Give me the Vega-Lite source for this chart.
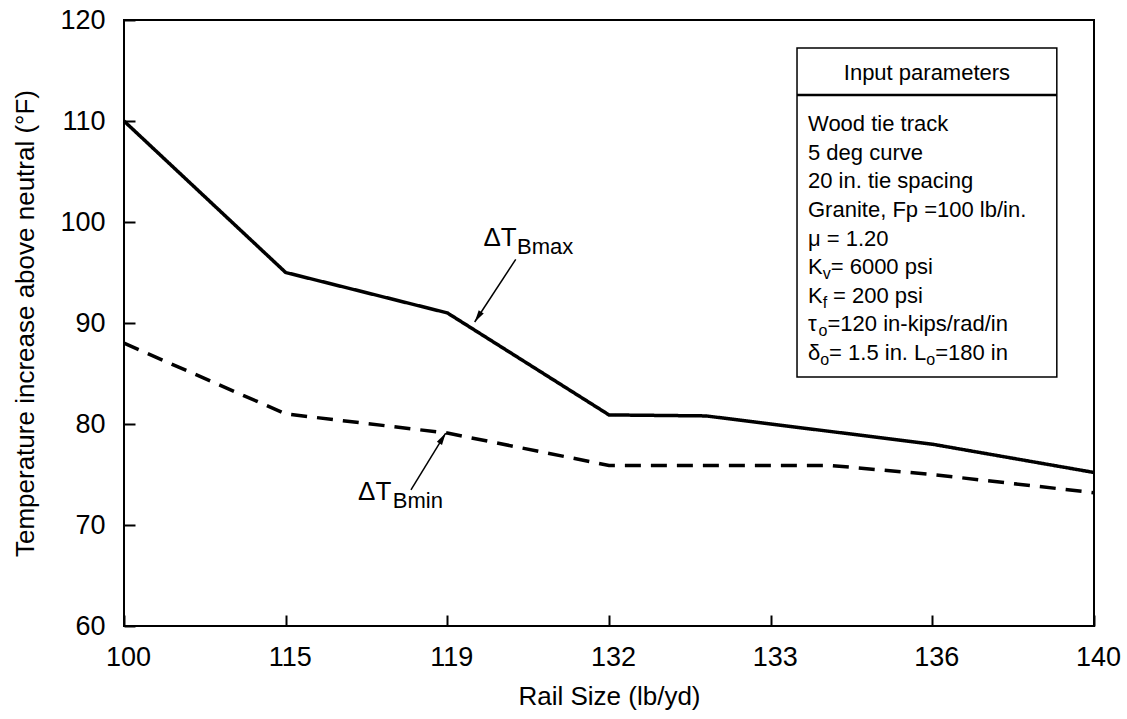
{
  "$schema": "https://vega.github.io/schema/vega-lite/v6.json",
  "width": 970,
  "height": 606,
  "autosize": {"type": "none"},
  "padding": {"left": 124, "top": 20, "right": 33, "bottom": 93},
  "config": {
    "font": "Liberation Sans",
    "view": {"stroke": "black", "strokeWidth": 2}
  },
  "datasets": {
    "curves": [
      {"rail": 100, "temp": 110, "series": "max"},
      {"rail": 115, "temp": 95, "series": "max"},
      {"rail": 119, "temp": 91, "series": "max"},
      {"rail": 132, "temp": 80.9, "series": "max"},
      {"rail": 132.6, "temp": 80.8, "series": "max"},
      {"rail": 136, "temp": 78, "series": "max"},
      {"rail": 140, "temp": 75.2, "series": "max"},
      {"rail": 100, "temp": 88, "series": "min"},
      {"rail": 115, "temp": 81, "series": "min"},
      {"rail": 119, "temp": 79.1, "series": "min"},
      {"rail": 132, "temp": 75.9, "series": "min"},
      {"rail": 134.1, "temp": 75.9, "series": "min"},
      {"rail": 136, "temp": 75, "series": "min"},
      {"rail": 140, "temp": 73.2, "series": "min"}
    ],
    "box": [{"x1": 133.489, "x2": 139.08, "y1": 117.23, "y2": 84.65}],
    "divider": [{"x1": 133.489, "x2": 139.08, "y": 112.57}],
    "arrowMax": [{"x1": 124.5, "y1": 96.3, "x2": 121.2, "y2": 90.1}],
    "arrowMin": [{"x1": 118.1, "y1": 73.47, "x2": 118.96, "y2": 79.1}],
    "header": [{"x": 135.9, "y": 114.06, "t": "Input parameters"}],
    "labels": [
      {"x": 133.693, "y": 109.01, "t": "Wood tie track", "k": "main"},
      {"x": 133.693, "y": 106.18, "t": "5 deg curve", "k": "main"},
      {"x": 133.693, "y": 103.34, "t": "20 in. tie spacing", "k": "main"},
      {"x": 133.693, "y": 100.5, "t": "Granite, Fp =100 lb/in.", "k": "main"},
      {"x": 133.693, "y": 97.67, "t": "μ = 1.20", "k": "main"},
      {"x": 133.693, "y": 94.84, "t": "K", "k": "main"},
      {"x": 133.9655, "y": 94.34, "t": "v", "k": "sub"},
      {"x": 134.114, "y": 94.84, "t": "= 6000 psi", "k": "main"},
      {"x": 133.693, "y": 92.0, "t": "K", "k": "main"},
      {"x": 133.9655, "y": 91.5, "t": "f", "k": "sub"},
      {"x": 134.157, "y": 92.0, "t": "= 200 psi", "k": "main"},
      {"x": 133.693, "y": 89.17, "t": "τ", "k": "main"},
      {"x": 133.889, "y": 88.67, "t": "o", "k": "sub"},
      {"x": 134.055, "y": 89.17, "t": "=120 in-kips/rad/in", "k": "main"},
      {"x": 133.693, "y": 86.34, "t": "δ", "k": "main"},
      {"x": 133.919, "y": 85.84, "t": "o", "k": "sub"},
      {"x": 134.084, "y": 86.34, "t": "= 1.5 in. L", "k": "main"},
      {"x": 135.888, "y": 85.84, "t": "o", "k": "sub"},
      {"x": 136.071, "y": 86.34, "t": "=180 in", "k": "main"},
      {"x": 121.9, "y": 97.6, "t": "ΔT", "k": "big"},
      {"x": 124.6, "y": 96.8, "t": "Bmax", "k": "bigsub"},
      {"x": 116.79, "y": 72.48, "t": "ΔT", "k": "big"},
      {"x": 117.65, "y": 71.68, "t": "Bmin", "k": "bigsub"}
    ]
  },
  "layer": [
    {
      "data": {"name": "box"},
      "mark": {"type": "rect", "fill": "white", "stroke": "black", "strokeWidth": 1.5},
      "encoding": {
        "x": {
          "field": "x1", "type": "quantitative",
          "scale": {"domain": [100, 115, 119, 132, 133, 136, 140], "range": [0, 161.667, 323.333, 485, 646.667, 808.333, 970]},
          "axis": {
            "values": [100, 115, 119, 132, 133, 136, 140],
            "title": "Rail Size (lb/yd)",
            "grid": false, "domain": false, "offset": -11, "zindex": 1,
            "ticks": true, "tickSize": 11, "tickWidth": 2, "tickColor": "black",
            "labelFontSize": 27, "labelColor": "black", "labelPadding": 18, "labelOffset": 4,
            "labelFlush": false, "labelOverlap": false, "format": "d",
            "titleFontSize": 26, "titleFontWeight": "normal", "titleColor": "black",
            "titleY": 89, "titleBaseline": "alphabetic"
          }
        },
        "x2": {"field": "x2"},
        "y": {
          "field": "y1", "type": "quantitative",
          "scale": {"domain": [60, 120], "nice": false, "zero": false},
          "axis": {
            "values": [60, 70, 80, 90, 100, 110, 120],
            "title": "Temperature increase above neutral (°F)",
            "grid": false, "domain": false, "offset": -11, "zindex": 1,
            "ticks": true, "tickSize": 11, "tickWidth": 2, "tickColor": "black",
            "labelFontSize": 27, "labelColor": "black", "labelPadding": 19,
            "labelFlush": false, "labelOverlap": false,
            "titleFontSize": 26, "titleFontWeight": "normal", "titleColor": "black",
            "titleX": -110, "titleBaseline": "middle"
          }
        },
        "y2": {"field": "y2"}
      }
    },
    {
      "data": {"name": "divider"},
      "mark": {"type": "rule", "stroke": "black", "strokeWidth": 2.5},
      "encoding": {
        "x": {"field": "x1", "type": "quantitative"},
        "x2": {"field": "x2"},
        "y": {"field": "y", "type": "quantitative"}
      }
    },
    {
      "data": {"name": "curves"},
      "mark": {"type": "line", "stroke": "black", "strokeWidth": 3.5},
      "encoding": {
        "x": {"field": "rail", "type": "quantitative"},
        "y": {"field": "temp", "type": "quantitative"},
        "detail": {"field": "series"},
        "strokeDash": {
          "field": "series", "type": "nominal",
          "scale": {"domain": ["max", "min"], "range": [[1, 0], [16, 10]]},
          "legend": null
        }
      }
    },
    {
      "data": {"name": "arrowMax"},
      "mark": {"type": "rule", "stroke": "black", "strokeWidth": 1.5},
      "encoding": {
        "x": {"field": "x1", "type": "quantitative"},
        "y": {"field": "y1", "type": "quantitative"},
        "x2": {"field": "x2"},
        "y2": {"field": "y2"}
      }
    },
    {
      "data": {"name": "arrowMin"},
      "mark": {"type": "rule", "stroke": "black", "strokeWidth": 1.5},
      "encoding": {
        "x": {"field": "x1", "type": "quantitative"},
        "y": {"field": "y1", "type": "quantitative"},
        "x2": {"field": "x2"},
        "y2": {"field": "y2"}
      }
    },
    {
      "data": {"name": "arrowMax"},
      "mark": {"type": "point", "shape": "M0,0L-0.35,1.4L0.35,1.4Z", "filled": true, "fill": "black", "stroke": null, "size": 294, "angle": 213, "opacity": 1},
      "encoding": {
        "x": {"field": "x2", "type": "quantitative"},
        "y": {"field": "y2", "type": "quantitative"}
      }
    },
    {
      "data": {"name": "arrowMin"},
      "mark": {"type": "point", "shape": "M0,0L-0.35,1.4L0.35,1.4Z", "filled": true, "fill": "black", "stroke": null, "size": 294, "angle": 31.6, "opacity": 1},
      "encoding": {
        "x": {"field": "x2", "type": "quantitative"},
        "y": {"field": "y2", "type": "quantitative"}
      }
    },
    {
      "data": {"name": "header"},
      "mark": {"type": "text", "align": "center", "baseline": "alphabetic", "fontSize": 22, "color": "black"},
      "encoding": {
        "x": {"field": "x", "type": "quantitative"},
        "y": {"field": "y", "type": "quantitative"},
        "text": {"field": "t"}
      }
    },
    {
      "data": {"name": "labels"},
      "transform": [{"filter": "datum.k === 'main'"}],
      "mark": {"type": "text", "align": "left", "baseline": "alphabetic", "color": "black", "fontSize": 22},
      "encoding": {
        "x": {"field": "x", "type": "quantitative"},
        "y": {"field": "y", "type": "quantitative"},
        "text": {"field": "t"}
      }
    },
    {
      "data": {"name": "labels"},
      "transform": [{"filter": "datum.k === 'sub'"}],
      "mark": {"type": "text", "align": "left", "baseline": "alphabetic", "color": "black", "fontSize": 16},
      "encoding": {
        "x": {"field": "x", "type": "quantitative"},
        "y": {"field": "y", "type": "quantitative"},
        "text": {"field": "t"}
      }
    },
    {
      "data": {"name": "labels"},
      "transform": [{"filter": "datum.k === 'big'"}],
      "mark": {"type": "text", "align": "left", "baseline": "alphabetic", "color": "black", "fontSize": 26},
      "encoding": {
        "x": {"field": "x", "type": "quantitative"},
        "y": {"field": "y", "type": "quantitative"},
        "text": {"field": "t"}
      }
    },
    {
      "data": {"name": "labels"},
      "transform": [{"filter": "datum.k === 'bigsub'"}],
      "mark": {"type": "text", "align": "left", "baseline": "alphabetic", "color": "black", "fontSize": 22},
      "encoding": {
        "x": {"field": "x", "type": "quantitative"},
        "y": {"field": "y", "type": "quantitative"},
        "text": {"field": "t"}
      }
    }
  ]
}
